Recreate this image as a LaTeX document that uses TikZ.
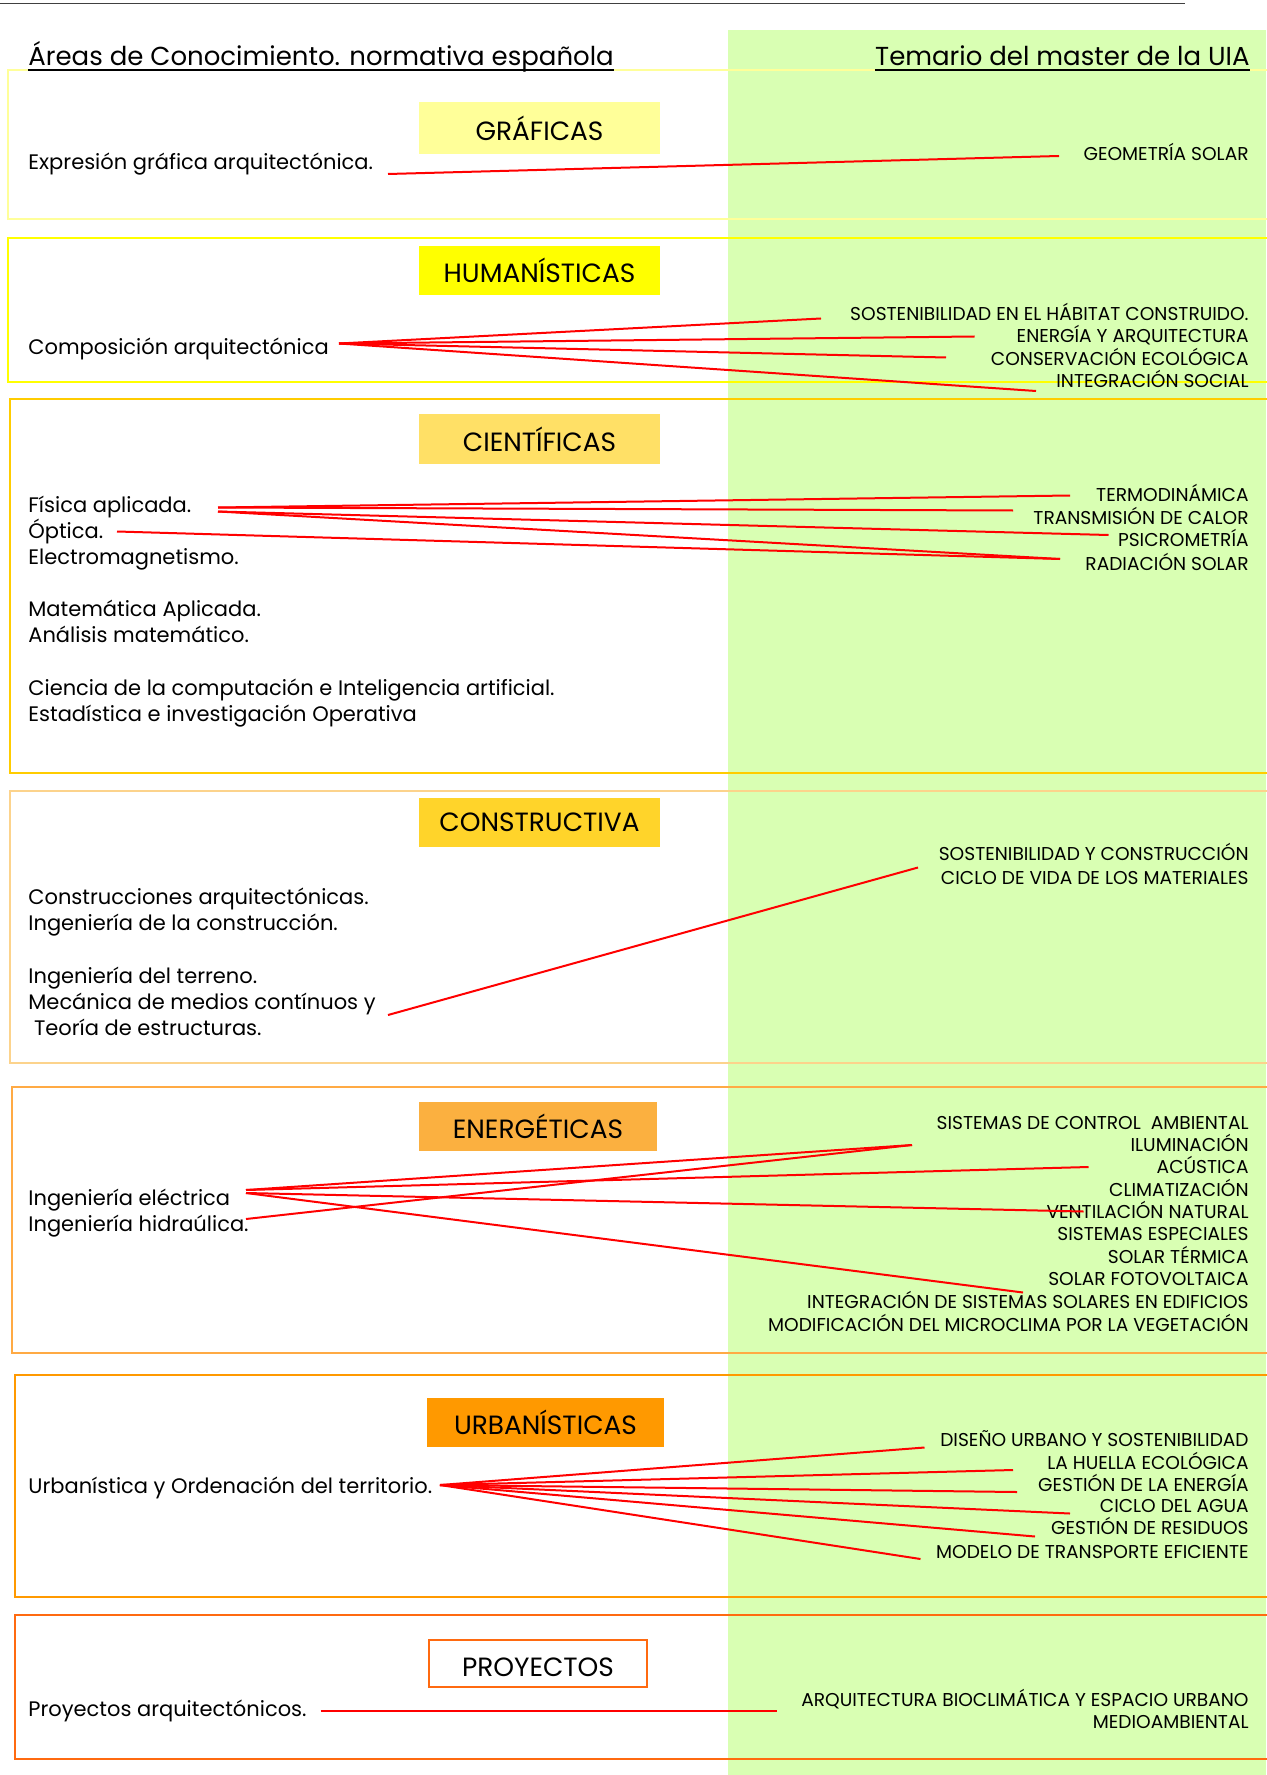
\documentclass[tikz,border=0pt]{standalone}
\usepackage{fontspec}
\setmainfont{Poppins}
\usepackage{tikz}
\definecolor{band}{HTML}{D9FFB3}
\definecolor{rulegray}{HTML}{404040}
\definecolor{cgraf}{HTML}{FFFF99}
\definecolor{chum}{HTML}{FFFF00}
\definecolor{ccien}{HTML}{FFCC00}
\definecolor{ccienbox}{HTML}{FFE066}
\definecolor{ccons}{HTML}{FCD38C}
\definecolor{cconsbox}{HTML}{FFD42A}
\definecolor{cener}{HTML}{FFAA44}
\definecolor{cenerbox}{HTML}{FBB040}
\definecolor{curb}{HTML}{FF9900}
\definecolor{cproy}{HTML}{FF6A10}
\tikzset{frame/.style = {line width = 1pt},
  title/.style = {minimum width = 120.5pt, minimum height = 24.5pt, inner sep = 0, font = \fontsize{13.2}{15}\selectfont},
  header/.style = {inner sep = 0, font = \fontsize{13}{15}\selectfont},
  lefttext/.style = {anchor = base west, inner sep = 0, font = \fontsize{10.5}{12}\selectfont},
  righttext/.style = {anchor = base east, inner sep = 0, font = \fontsize{9.3}{11}\selectfont},
  link/.style = {red, line width = 1pt}}

\begin{document}
\begin{tikzpicture}[x = 0.5pt, y = -0.5pt]
    \useasboundingbox (0, 0) rectangle (1266, 1775);
    \fill [band] (728, 30.5) rectangle (1266, 1775);
    \draw [rulegray, line width = 0.75pt] (0, 3.5) -- (1185, 3.5);

    \draw [frame, cgraf] (8, 70) rectangle (1272, 219);
    \draw [frame, chum] (8, 238) rectangle (1272, 382);
    \draw [frame, ccien] (10, 399) rectangle (1272, 773);
    \draw [frame, ccons] (10, 790.5) rectangle (1272, 1062.5);
    \draw [frame, cener] (12, 1086.5) rectangle (1272, 1353);
    \draw [frame, curb] (14.5, 1375) rectangle (1272, 1597);
    \draw [frame, cproy] (14.5, 1615) rectangle (1272, 1759);

    \node [header, anchor = base west] (areas) at (28, 66) {Áreas de Conocimiento. normativa española};
    \node [header, anchor = base east] (temario) at (1250, 66) {Temario del master de la UIA};
    \draw [line width = 1pt] ([yshift = -2pt]areas.base west) -- ([yshift = -2pt]areas.base east);
    \draw [line width = 1pt] ([yshift = -2pt]temario.base west) -- ([yshift = -2pt]temario.base east);

    \node [title, fill = cgraf, minimum height = 26pt] (graf) at (539.5, 128) {GRÁFICAS};
    \node [title, fill = chum] (hum) at (539.5, 270.5) {HUMANÍSTICAS};
    \node [title, fill = ccienbox] (cien) at (539.5, 439) {CIENTÍFICAS};
    \node [title, fill = cconsbox] (cons) at (539.5, 822.5) {CONSTRUCTIVA};
    \node [title, fill = cenerbox, minimum width = 119pt] (ener) at (538, 1126.5) {ENERGÉTICAS};
    \node [title, fill = curb, minimum width = 118.5pt] (urb) at (545.5, 1422.5) {URBANÍSTICAS};
    \node [title, draw = cproy, line width = 1pt, fill = white, minimum width = 109pt, minimum height = 23.5pt,
        text height = 13.2pt, text depth = 0pt] (proy) at (538, 1663.5) {PROYECTOS};

    \node [lefttext] (expresion) at (28, 170) {Expresión gráfica arquitectónica.};
    \node [lefttext] (composicion) at (28, 355) {Composición arquitectónica};
    \node [lefttext] (fisica) at (28, 512) {Física aplicada.};
    \node [lefttext] (optica) at (28, 538) {Óptica.};
    \node [lefttext] (electro) at (28, 564) {Electromagnetismo.};
    \node [lefttext] (matap) at (28, 616) {Matemática Aplicada.};
    \node [lefttext] (analisis) at (28, 642) {Análisis matemático.};
    \node [lefttext] (ciencia) at (28, 695) {Ciencia de la computación e Inteligencia artificial.};
    \node [lefttext] (estad) at (28, 721) {Estadística e investigación Operativa};
    \node [lefttext] (construcc) at (28, 904) {Construcciones arquitectónicas.};
    \node [lefttext] (ingcons) at (28, 930.5) {Ingeniería de la construcción.};
    \node [lefttext] (terreno) at (28, 983) {Ingeniería del terreno.};
    \node [lefttext] (mecanica) at (28, 1009) {Mecánica de medios contínuos y};
    \node [lefttext] (teoria) at (28, 1035) {\ Teoría de estructuras.};
    \node [lefttext] (electrica) at (28, 1205) {Ingeniería eléctrica};
    \node [lefttext] (hidraulica) at (28, 1231.5) {Ingeniería hidraúlica.};
    \node [lefttext] (urbanistica) at (28, 1493) {Urbanística y Ordenación del territorio.};
    \node [lefttext] (proyectos) at (28, 1716.5) {Proyectos arquitectónicos.};

    \node [righttext] (geometria) at (1249, 160.5) {GEOMETRÍA SOLAR};
    \node [righttext] (sosthab) at (1249, 320.5) {SOSTENIBILIDAD EN EL HÁBITAT CONSTRUIDO.};
    \node [righttext] (energia) at (1249, 343) {ENERGÍA Y ARQUITECTURA};
    \node [righttext] (conserv) at (1249, 365.5) {CONSERVACIÓN ECOLÓGICA};
    \node [righttext] (integsoc) at (1249, 388) {INTEGRACIÓN SOCIAL};
    \node [righttext] (termo) at (1249, 501) {TERMODINÁMICA};
    \node [righttext] (transm) at (1249, 524) {TRANSMISIÓN DE CALOR};
    \node [righttext] (psicro) at (1249, 546) {PSICROMETRÍA};
    \node [righttext] (radiac) at (1249, 570) {RADIACIÓN SOLAR};
    \node [righttext] (sostcons) at (1249, 860) {SOSTENIBILIDAD Y CONSTRUCCIÓN};
    \node [righttext] (ciclovida) at (1249, 884) {CICLO DE VIDA DE LOS MATERIALES};
    \node [righttext] (control) at (1249, 1129) {SISTEMAS DE CONTROL\ \ AMBIENTAL};
    \node [righttext] (ilumin) at (1249, 1151) {ILUMINACIÓN};
    \node [righttext] (acustica) at (1249, 1173.5) {ACÚSTICA};
    \node [righttext] (climat) at (1249, 1196) {CLIMATIZACIÓN};
    \node [righttext] (ventil) at (1249, 1218) {VENTILACIÓN NATURAL};
    \node [righttext] (especiales) at (1249, 1240.5) {SISTEMAS ESPECIALES};
    \node [righttext] (termica) at (1249, 1263) {SOLAR TÉRMICA};
    \node [righttext] (fotovolt) at (1249, 1285.5) {SOLAR FOTOVOLTAICA};
    \node [righttext] (integsol) at (1249, 1308.5) {INTEGRACIÓN DE SISTEMAS SOLARES EN EDIFICIOS};
    \node [righttext] (microclima) at (1249, 1331.5) {MODIFICACIÓN DEL MICROCLIMA POR LA VEGETACIÓN};
    \node [righttext] (diseno) at (1249, 1446) {DISEÑO URBANO Y SOSTENIBILIDAD};
    \node [righttext] (huella) at (1249, 1469) {LA HUELLA ECOLÓGICA};
    \node [righttext] (gestener) at (1249, 1491) {GESTIÓN DE LA ENERGÍA};
    \node [righttext] (agua) at (1249, 1512.5) {CICLO DEL AGUA};
    \node [righttext] (residuos) at (1249, 1534.5) {GESTIÓN DE RESIDUOS};
    \node [righttext] (transporte) at (1249, 1558) {MODELO DE TRANSPORTE EFICIENTE};
    \node [righttext] (bioclim) at (1249, 1706) {ARQUITECTURA BIOCLIMÁTICA Y ESPACIO URBANO};
    \node [righttext] (medioamb) at (1249, 1728.5) {MEDIOAMBIENTAL};

    \coordinate (expresion-e) at (388, 174);
    \coordinate (geometria-w) at (1059, 156);
    \coordinate (composicion-e) at (339, 343.5);
    \coordinate (sosthab-w) at (821, 318.5);
    \coordinate (energia-w) at (974.5, 336.5);
    \coordinate (conserv-w) at (946, 357.5);
    \coordinate (integsoc-w) at (1036, 391);
    \coordinate (fisica-e) at (218, 507.5);
    \coordinate (fisica-se) at (218, 511.5);
    \coordinate (optica-e) at (117, 531.5);
    \coordinate (termo-w) at (1070, 495.5);
    \coordinate (transm-w) at (1013, 510.5);
    \coordinate (psicro-w) at (1108.5, 535);
    \coordinate (radiac-w) at (1060, 559);
    \coordinate (mecanica-e) at (388, 1015);
    \coordinate (ciclovida-w) at (918, 867.5);
    \coordinate (electrica-e) at (246, 1190);
    \coordinate (electrica-se) at (246, 1193);
    \coordinate (hidraulica-e) at (246, 1219);
    \coordinate (ilumin-w) at (912, 1145);
    \coordinate (acustica-w) at (1088.5, 1167);
    \coordinate (ventil-w) at (1083.5, 1211.5);
    \coordinate (integsol-w) at (1023, 1292.5);
    \coordinate (urbanistica-e) at (440, 1485);
    \coordinate (diseno-w) at (924.5, 1447.5);
    \coordinate (huella-w) at (1013, 1470);
    \coordinate (gestener-w) at (1017, 1492);
    \coordinate (agua-w) at (1070, 1513.5);
    \coordinate (residuos-w) at (1035, 1536.5);
    \coordinate (transporte-w) at (920.5, 1559);
    \coordinate (proyectos-e) at (320.5, 1711);
    \coordinate (bioclim-w) at (776.5, 1711);

    \draw [link] (expresion-e) -- (geometria-w);
    \draw [link] (composicion-e) -- (sosthab-w);
    \draw [link] (composicion-e) -- (energia-w);
    \draw [link] (composicion-e) -- (conserv-w);
    \draw [link] (composicion-e) -- (integsoc-w);
    \draw [link] (fisica-e) -- (termo-w);
    \draw [link] (fisica-e) -- (transm-w);
    \draw [link] (fisica-se) -- (psicro-w);
    \draw [link] (fisica-se) -- (radiac-w);
    \draw [link] (optica-e) -- (radiac-w);
    \draw [link] (mecanica-e) -- (ciclovida-w);
    \draw [link] (electrica-e) -- (ilumin-w);
    \draw [link] (electrica-e) -- (acustica-w);
    \draw [link] (electrica-se) -- (ventil-w);
    \draw [link] (electrica-se) -- (integsol-w);
    \draw [link] (hidraulica-e) -- (ilumin-w);
    \draw [link] (urbanistica-e) -- (diseno-w);
    \draw [link] (urbanistica-e) -- (huella-w);
    \draw [link] (urbanistica-e) -- (gestener-w);
    \draw [link] (urbanistica-e) -- (agua-w);
    \draw [link] (urbanistica-e) -- (residuos-w);
    \draw [link] (urbanistica-e) -- (transporte-w);
    \draw [link] (proyectos-e) -- (bioclim-w);
\end{tikzpicture}
\end{document}
